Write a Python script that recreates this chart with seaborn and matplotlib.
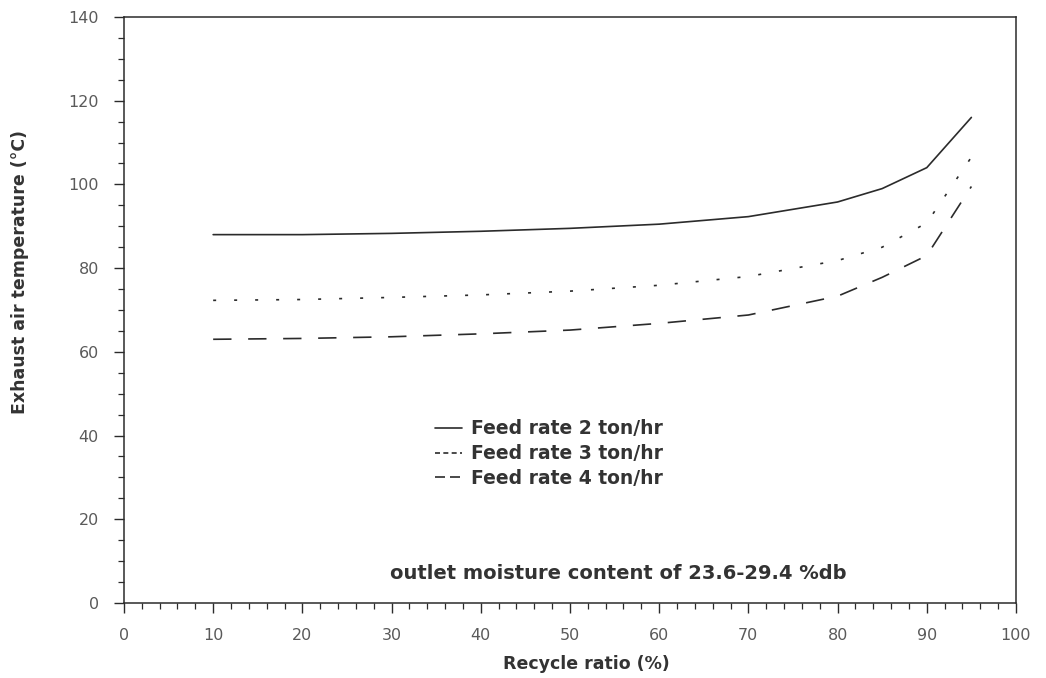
import matplotlib
matplotlib.use("Agg")
import matplotlib.pyplot as plt
from matplotlib.ticker import MultipleLocator
from matplotlib.lines import Line2D
import seaborn as sns
import pandas as pd

recycle_ratio = [10, 20, 30, 40, 50, 60, 70, 80, 85, 90, 95]
feed_2 = [88.0, 88.0, 88.3, 88.8, 89.5, 90.5, 92.3, 95.8, 99.0, 104.0, 116.0]
feed_3 = [72.3, 72.5, 73.0, 73.6, 74.5, 75.9, 78.0, 81.8, 85.0, 90.8, 106.5]
feed_4 = [63.0, 63.2, 63.6, 64.3, 65.2, 66.8, 68.8, 73.3, 77.8, 83.0, 99.5]
series_names = ["Feed rate 2 ton/hr", "Feed rate 3 ton/hr", "Feed rate 4 ton/hr"]
annotation = "outlet moisture content of 23.6-29.4 %db"

rows = []
for name, vals in zip(series_names, [feed_2, feed_3, feed_4]):
    for x, y in zip(recycle_ratio, vals):
        rows.append({"Recycle ratio": x, "Temperature": y, "Series": name})
df = pd.DataFrame(rows)

sns.set_theme(style="ticks")
plt.rcParams["font.family"] = ["DejaVu Sans"]

ink = "#2b2b2b"
txt = "#333333"
fig = plt.figure(figsize=(10.46, 6.78), dpi=100)
ax = fig.add_axes([0.1185, 0.1106, 0.8528, 0.8644])

lw = 1.2
dash_map = {series_names[0]: "", series_names[1]: (1.8, 10.8), series_names[2]: (11, 10)}
sns.lineplot(data=df, x="Recycle ratio", y="Temperature", hue="Series", style="Series",
             palette=[ink, ink, ink], dashes=dash_map, linewidth=lw, ax=ax, legend=False)

ax.set_xlim(0, 100)
ax.set_ylim(0, 140)
ax.xaxis.set_major_locator(MultipleLocator(10))
ax.xaxis.set_minor_locator(MultipleLocator(2))
ax.yaxis.set_major_locator(MultipleLocator(20))
ax.yaxis.set_minor_locator(MultipleLocator(5))
ax.tick_params(axis="both", which="major", direction="out", length=7, width=1.0,
               color=ink, labelsize=11.5, labelcolor="#5a5a5a", pad=11)
ax.tick_params(axis="both", which="minor", direction="out", length=4, width=0.9, color=ink)
ax.tick_params(top=False, right=False, which="both")
for s in ax.spines.values():
    s.set_color(ink)
    s.set_linewidth(1.1)
    s.set_visible(True)

ax.set_xlabel("Recycle ratio (%)", fontsize=12.5, fontweight="bold", color=txt)
ax.set_ylabel("Exhaust air temperature (°C)", fontsize=12.5, fontweight="bold", color=txt)
ax.xaxis.set_label_coords(0.518, -0.088)
ax.yaxis.set_label_coords(-0.106, 0.565)

handles = [Line2D([], [], color=ink, lw=lw, linestyle="-"),
           Line2D([], [], color=ink, lw=lw, dashes=(3, 2)),
           Line2D([], [], color=ink, lw=lw, dashes=(6, 3))]
leg = ax.legend(handles, series_names, loc="upper left", bbox_to_anchor=(0.33, 0.342),
                frameon=False, handlelength=1.45, handletextpad=0.45, labelspacing=0.3,
                prop={"size": 13.5, "weight": "bold"})
for t in leg.get_texts():
    t.set_color(txt)

ax.text(0.554, 0.051, annotation, transform=ax.transAxes, ha="center", va="center",
        fontsize=14, fontweight="bold", color=txt)

fig.savefig("out.png", dpi=100, facecolor="white")
